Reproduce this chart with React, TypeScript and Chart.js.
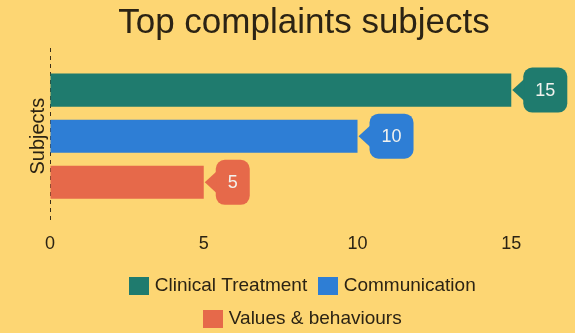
import React, { useEffect, useRef } from "react";
import { Chart, registerables } from "chart.js";

Chart.register(...registerables);

const categories = [""];
const seriesNames = ["Clinical Treatment", "Communication", "Values & behaviours"];
const seriesValues = [[15], [10], [5]];
const seriesColors = ["#1f7b6e", "#2e7ed5", "#e6694a"];
const xTicks = [0, 5, 10, 15];

const BG = "#fdd673";
const TEXT = "#2b2314";
const AXIS = "#3a2e1a";
const FONT = "'Liberation Sans', Arial, sans-serif";

function makeSwatch(color: string) {
  const c = document.createElement("canvas");
  c.width = 20;
  c.height = 18;
  const g = c.getContext("2d") as CanvasRenderingContext2D;
  g.fillStyle = color;
  g.fillRect(0, 0, 20, 18);
  return c;
}

const calloutPlugin = {
  id: "callouts",
  afterDatasetsDraw(chart: any) {
    const ctx = chart.ctx;
    ctx.save();
    chart.data.datasets.forEach((ds: any, i: number) => {
      const meta = chart.getDatasetMeta(i);
      meta.data.forEach((bar: any, j: number) => {
        const { x, y } = bar.getProps(["x", "y"], true);
        const text = String(ds.data[j]);
        ctx.font = `18px ${FONT}`;
        const tw = ctx.measureText(text).width;
        const tip = x + 1;
        const arrowLen = 11;
        const padX = 12;
        const h = 45;
        const r = 9;
        const bx = tip + arrowLen;
        const bw = tw + padX * 2;
        const by = y - h / 2;
        ctx.fillStyle = ds.backgroundColor;
        ctx.beginPath();
        ctx.roundRect(bx, by, bw, h, r);
        ctx.fill();
        ctx.beginPath();
        ctx.moveTo(tip, y);
        ctx.lineTo(bx + 1, y - 11);
        ctx.lineTo(bx + 1, y + 11);
        ctx.closePath();
        ctx.fill();
        ctx.fillStyle = "#f2f2ee";
        ctx.textAlign = "center";
        ctx.textBaseline = "middle";
        ctx.fillText(text, bx + bw / 2, y + 1);
      });
    });
    ctx.restore();
  },
};

const W = 582;
const H = 338;

export default function App() {
  const ref = useRef<HTMLCanvasElement | null>(null);

  useEffect(() => {
    document.body.style.margin = "0";
    document.body.style.background = BG;
    const swatches = seriesColors.map(makeSwatch);
    const chart = new Chart(ref.current as HTMLCanvasElement, {
      type: "bar",
      data: {
        labels: categories,
        datasets: seriesNames.map((name, i) => ({
          label: name,
          data: seriesValues[i],
          backgroundColor: seriesColors[i],
          borderWidth: 0,
          categoryPercentage: 0.784,
          barPercentage: 0.717,
        })),
      },
      options: {
        indexAxis: "y",
        animation: false,
        responsive: false,
        maintainAspectRatio: false,
        layout: { padding: { left: 26, right: 0, top: 2, bottom: 0 } },
        plugins: {
          title: {
            display: true,
            text: "Top complaints subjects",
            color: TEXT,
            font: { family: FONT, size: 35, weight: "normal" },
            padding: { top: 0, bottom: 4 },
          },
          legend: {
            position: "bottom",
            labels: {
              color: TEXT,
              font: { family: FONT, size: 19 },
              usePointStyle: true,
              pointStyleWidth: 13,
              boxHeight: 18,
              padding: 14,
              generateLabels(chart: any) {
                const items = Chart.defaults.plugins.legend.labels.generateLabels(chart);
                return items.map((it: any, i: number) => ({ ...it, pointStyle: swatches[i] }));
              },
            },
          },
          tooltip: { enabled: false },
        },
        scales: {
          x: {
            min: 0,
            max: 17.3,
            afterBuildTicks(axis: any) {
              axis.ticks = xTicks.map((v) => ({ value: v }));
            },
            afterFit(axis: any) {
              axis.height -= 2;
            },
            grid: {
              display: true,
              drawTicks: false,
              lineWidth: 1,
              color: (c: any) => (c.tick && c.tick.value === 0 ? AXIS : "rgba(0,0,0,0)"),
            },
            border: { display: false, dash: [4, 4] },
            ticks: { color: TEXT, font: { family: FONT, size: 18 }, padding: 9 },
          },
          y: {
            grid: { display: false, drawTicks: false },
            border: { display: false },
            ticks: { display: false },
            title: {
              display: true,
              text: "Subjects",
              color: TEXT,
              font: { family: FONT, size: 20 },
              padding: { top: 0, bottom: 0 },
            },
          },
        },
      },
      plugins: [calloutPlugin],
    });
    return () => chart.destroy();
  }, []);

  return (
    <div style={{ position: "absolute", left: 0, top: 0, width: 575, height: 333, background: BG, overflow: "hidden" }}>
      <canvas ref={ref} width={W} height={H} style={{ display: "block", width: W, height: H }} />
    </div>
  );
}
